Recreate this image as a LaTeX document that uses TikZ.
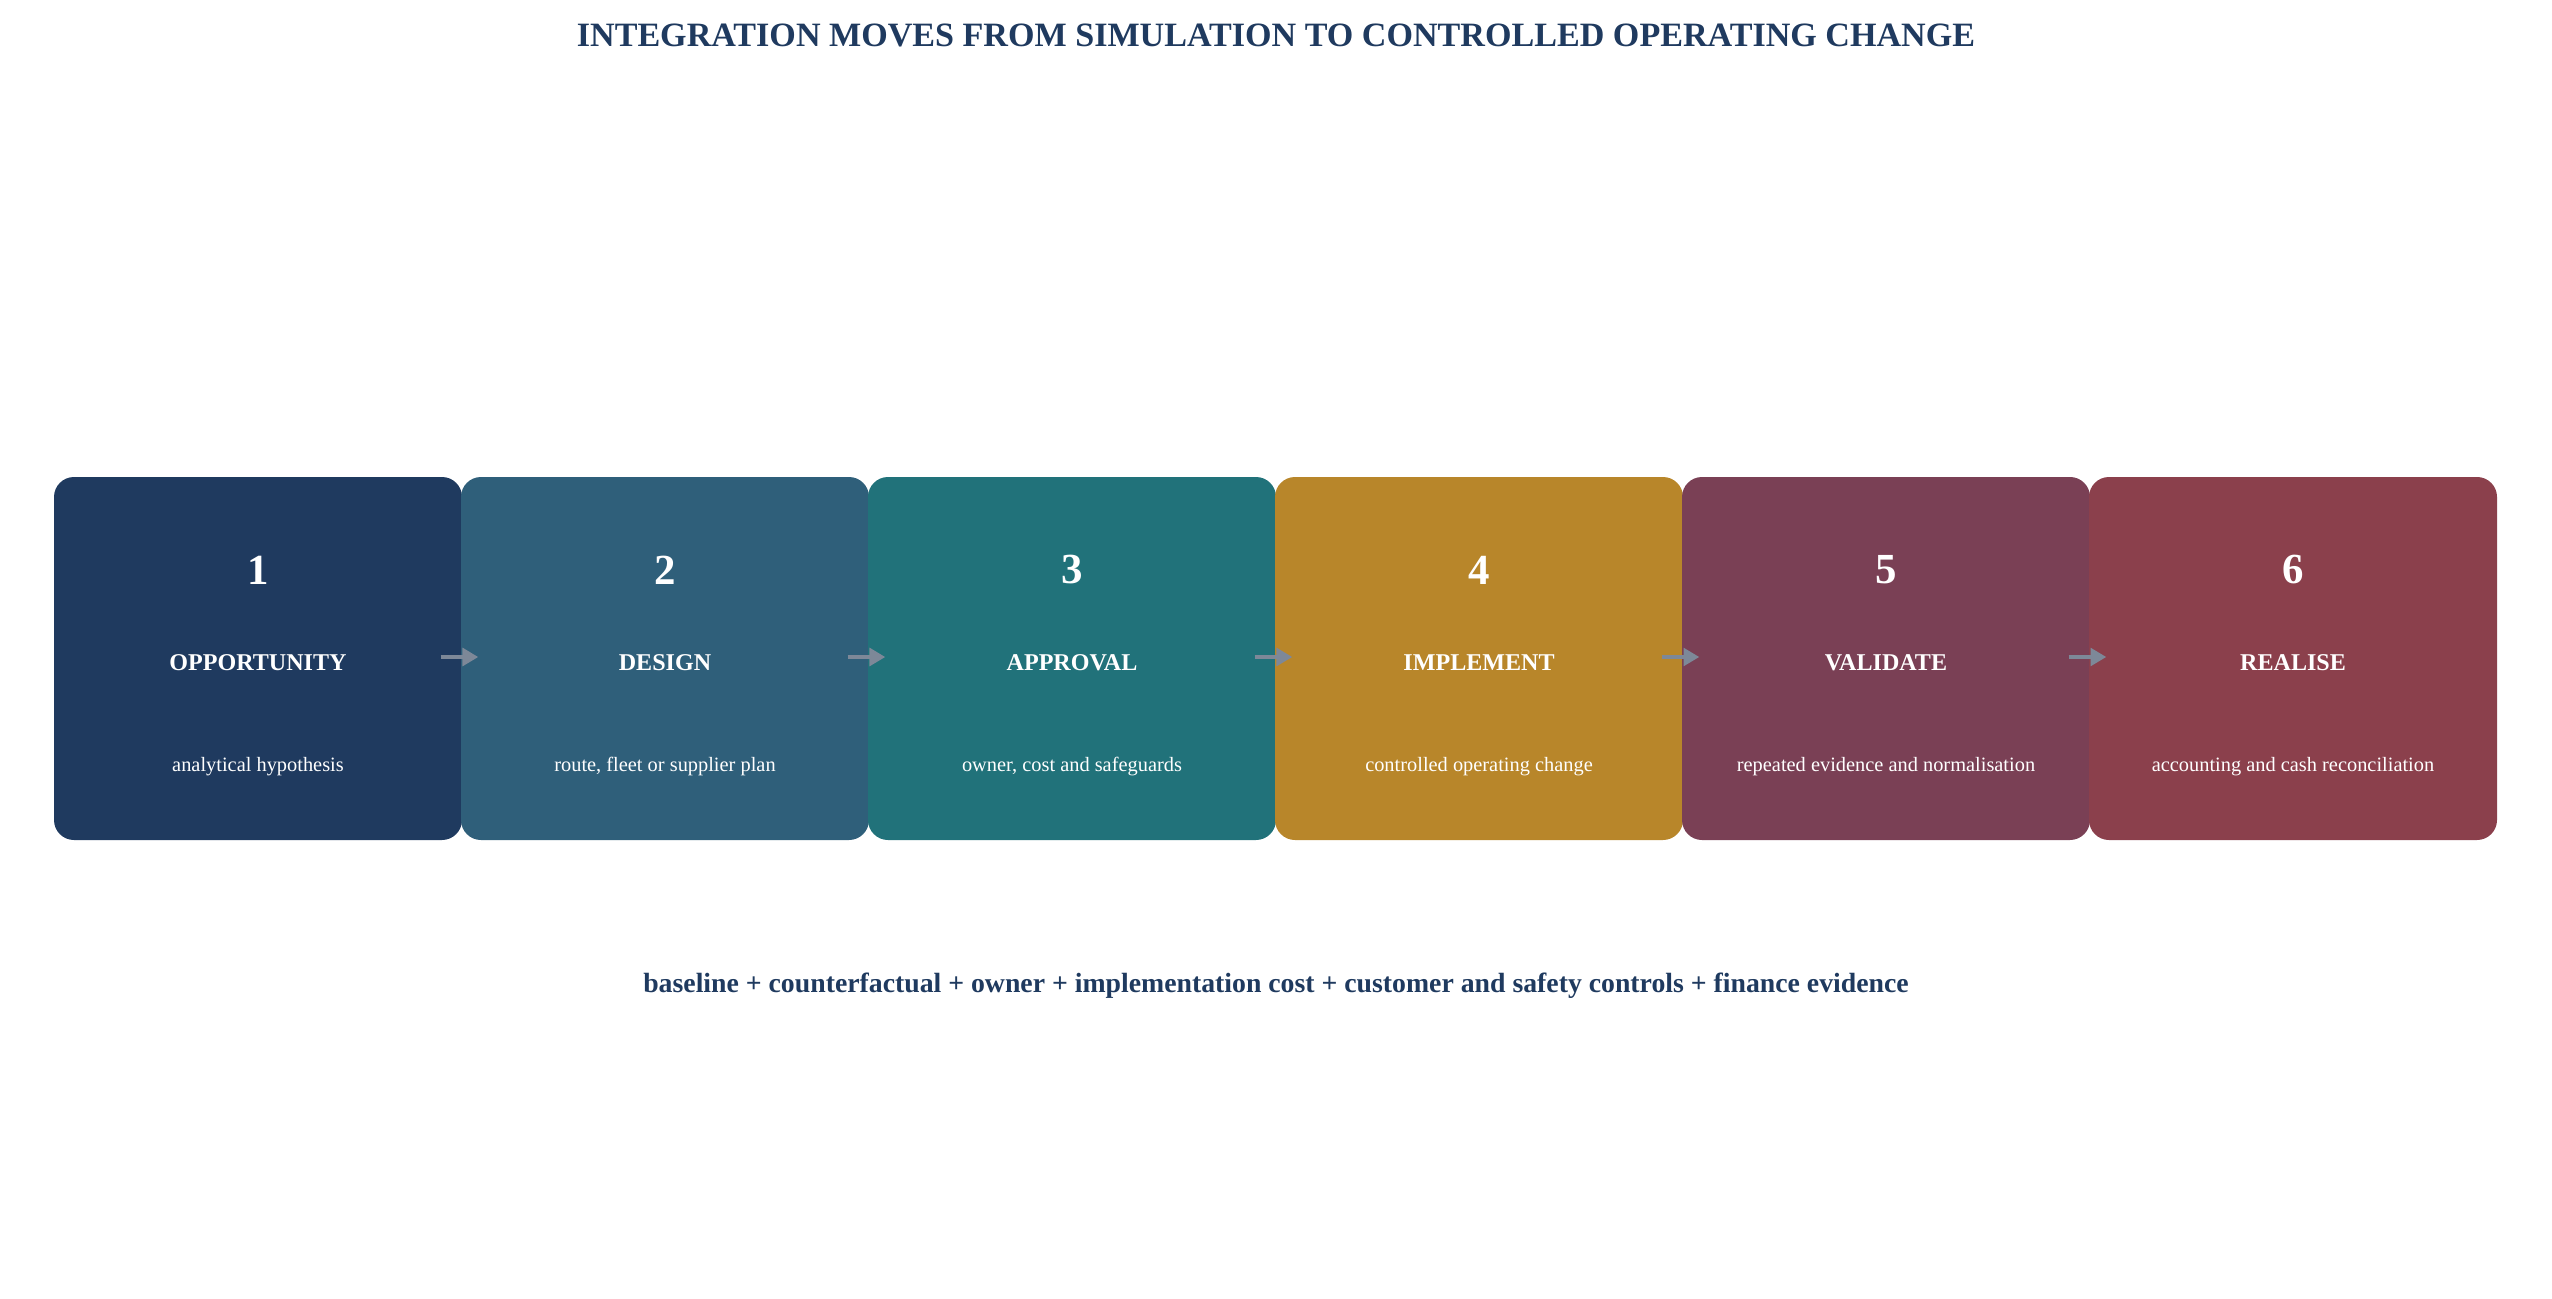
\documentclass[tikz,border=0pt]{standalone}
\usepackage{fontspec}
\setmainfont{Liberation Serif}
\usepackage{tikz}
\usetikzlibrary{calc}
\usetikzlibrary{arrows.meta}
\usetikzlibrary{positioning}

\definecolor{navy}{HTML}{1F3A5F}
\definecolor{slate}{HTML}{2F5F7A}
\definecolor{teal}{HTML}{21727A}
\definecolor{ochre}{HTML}{B8862A}
\definecolor{plum}{HTML}{7A4055}
\definecolor{wine}{HTML}{8B404C}
\definecolor{arrowgray}{HTML}{7D8898}

\tikzset{
    stepbox/.style = {rounded corners = 2mm, minimum width = 4.08cm, minimum height = 3.63cm, inner sep = 0pt, draw = none},
    stepnum/.style = {text = white, font = \fontsize{12.2}{14}\selectfont\bfseries},
    steplabel/.style = {text = white, font = \fontsize{6.85}{9}\selectfont\bfseries},
    stepdesc/.style = {text = white, font = \fontsize{5.8}{7}\selectfont},
    flow/.style = {draw = arrowgray, line width = 1.1pt, -{Triangle[length = 4.5pt, width = 5pt]}}
}

\begin{document}
\begin{tikzpicture}
    \useasboundingbox (0,0) rectangle (25.52,12.98);

    \node[text = navy, font = \fontsize{9.7}{12}\selectfont\bfseries] (title) at (12.76,12.63) {INTEGRATION MOVES FROM SIMULATION TO CONTROLLED OPERATING CHANGE};

        % steps
        \node[stepbox, fill = navy]  (s1) at (2.58,6.395) {};
        \node[stepbox, fill = slate] (s2) at (6.65,6.395) {};
        \node[stepbox, fill = teal]  (s3) at (10.72,6.395) {};
        \node[stepbox, fill = ochre] (s4) at (14.79,6.395) {};
        \node[stepbox, fill = plum]  (s5) at (18.86,6.395) {};
        \node[stepbox, fill = wine]  (s6) at (22.93,6.395) {};

        \node[stepnum]   (n1) at ($(s1)+(0,0.885)$) {1};
        \node[steplabel] (l1) at ($(s1)+(0,-0.045)$) {OPPORTUNITY};
        \node[stepdesc]  (d1) at ($(s1)+(0,-1.08)$) {analytical hypothesis};

        \node[stepnum]   (n2) at ($(s2)+(0,0.885)$) {2};
        \node[steplabel] (l2) at ($(s2)+(0,-0.045)$) {DESIGN};
        \node[stepdesc]  (d2) at ($(s2)+(0,-1.08)$) {route, fleet or supplier plan};

        \node[stepnum]   (n3) at ($(s3)+(0,0.885)$) {3};
        \node[steplabel] (l3) at ($(s3)+(0,-0.045)$) {APPROVAL};
        \node[stepdesc]  (d3) at ($(s3)+(0,-1.08)$) {owner, cost and safeguards};

        \node[stepnum]   (n4) at ($(s4)+(0,0.885)$) {4};
        \node[steplabel] (l4) at ($(s4)+(0,-0.045)$) {IMPLEMENT};
        \node[stepdesc]  (d4) at ($(s4)+(0,-1.08)$) {controlled operating change};

        \node[stepnum]   (n5) at ($(s5)+(0,0.885)$) {5};
        \node[steplabel] (l5) at ($(s5)+(0,-0.045)$) {VALIDATE};
        \node[stepdesc]  (d5) at ($(s5)+(0,-1.08)$) {repeated evidence and normalisation};

        \node[stepnum]   (n6) at ($(s6)+(0,0.885)$) {6};
        \node[steplabel] (l6) at ($(s6)+(0,-0.045)$) {REALISE};
        \node[stepdesc]  (d6) at ($(s6)+(0,-1.08)$) {accounting and cash reconciliation};

    % arrows across the joins
    \draw[flow] ($(s1.east)+(-0.22,0.015)$) -- ($(s2.west)+(0.18,0.015)$);
    \draw[flow] ($(s2.east)+(-0.22,0.015)$) -- ($(s3.west)+(0.18,0.015)$);
    \draw[flow] ($(s3.east)+(-0.22,0.015)$) -- ($(s4.west)+(0.18,0.015)$);
    \draw[flow] ($(s4.east)+(-0.22,0.015)$) -- ($(s5.west)+(0.18,0.015)$);
    \draw[flow] ($(s5.east)+(-0.22,0.015)$) -- ($(s6.west)+(0.18,0.015)$);

    \node[text = navy, font = \fontsize{7.9}{10}\selectfont\bfseries] (summary) at (12.76,3.12) {baseline + counterfactual + owner + implementation cost + customer and safety controls + finance evidence};
\end{tikzpicture}
\end{document}
